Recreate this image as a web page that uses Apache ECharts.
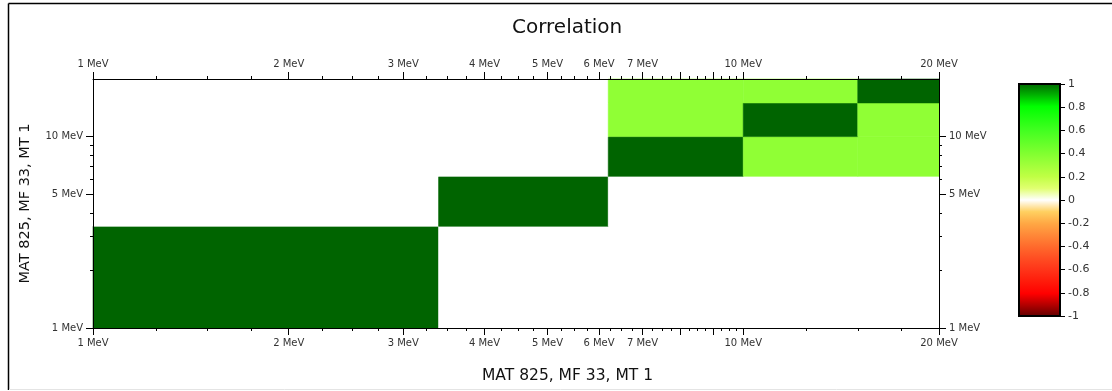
<!DOCTYPE html>
<html><head><meta charset="utf-8">
<script src="https://cdn.jsdelivr.net/npm/echarts@6/dist/echarts.min.js"></script>
<style>html,body{margin:0;padding:0;background:#fff}#c{width:1112px;height:391px}</style>
</head><body><div id="c"></div>
<script>
// ---- data ----
const groupBounds = [1, 3.4, 6.2, 10, 15, 20];           // MeV, group edges (both axes)
const corrMatrix = [                                      // row = y group, col = x group
  [1, 0, 0, 0, 0],
  [0, 1, 0, 0, 0],
  [0, 0, 1, 0.35, 0.35],
  [0, 0, 0.35, 1, 0.35],
  [0, 0, 0.35, 0.35, 1]
];
const xMajorTicks = [1, 2, 3, 4, 5, 6, 7, 8, 9, 10, 20];
const xLabelTicks = [1, 2, 3, 4, 5, 6, 7, 10, 20];
const xMinorTicks = [1.25, 1.5, 1.75, 2.25, 2.5, 2.75, 3.25, 3.5, 3.75, 4.25, 4.5, 4.75,
  5.25, 5.5, 5.75, 6.25, 6.5, 6.75, 7.25, 7.5, 7.75, 8.25, 8.5, 8.75, 9.25, 9.5, 9.75,
  12.5, 15, 17.5];
const yLabelTicks = [1, 5, 10];
const yMinorTicks = [2, 3, 4, 6, 7, 8, 9];
const colorScale = ['#5C0000', '#B00000', '#FF0000', '#FF1A0A', '#FF3318', '#FF4D22', '#FF6A2C',
  '#FF8838', '#FFA844', '#FFD060', '#FFFFFF', '#E0FF70', '#C0FF44', '#A0FF3A', '#80FF30',
  '#60FF28', '#40FF20', '#20FF10', '#00FF00', '#00B000', '#006400'];
const energyMin = 1, energyMax = 20;
const titleText = 'Correlation';
const axisTitle = 'MAT 825, MF 33, MT 1';

// ---- build ----
const L = v => Math.log10(v);
const LMIN = L(energyMin), LMAX = L(energyMax);
const fmt = v => Math.round(Math.pow(10, v)) + ' MeV';
const FONT = 'DejaVu Sans';

const cells = [];
for (let r = 0; r < corrMatrix.length; r++) {
  for (let c = 0; c < corrMatrix[r].length; c++) {
    cells.push([L(groupBounds[c]), L(groupBounds[c + 1]), L(groupBounds[r]), L(groupBounds[r + 1]), corrMatrix[r][c]]);
  }
}

const lbl = {fontSize: 10, color: '#333', fontFamily: FONT};
function xAx(pos, major) {
  return {
    gridIndex: 0, type: 'value', position: pos, min: LMIN, max: LMAX, z: 10,
    splitLine: {show: false},
    axisLine: {show: major, onZero: false, lineStyle: {color: '#000', width: 1}},
    axisTick: {show: true, length: major ? 7 : 3, customValues: (major ? xMajorTicks : xMinorTicks).map(L), lineStyle: {color: '#000'}},
    axisLabel: major ? Object.assign({show: true, customValues: xLabelTicks.map(L), formatter: fmt, margin: 10, showMinLabel: true, showMaxLabel: true}, lbl) : {show: false}
  };
}
function yAx(pos, major) {
  return {
    gridIndex: 0, type: 'value', position: pos, min: LMIN, max: LMAX, z: 10,
    splitLine: {show: false},
    axisLine: {show: major, onZero: false, lineStyle: {color: '#000', width: 1}},
    axisTick: {show: true, length: major ? 7 : 3, customValues: (major ? yLabelTicks : yMinorTicks).map(L), lineStyle: {color: '#000'}},
    axisLabel: major ? Object.assign({show: true, customValues: yLabelTicks.map(L), formatter: fmt, margin: 10, showMinLabel: true, showMaxLabel: true}, lbl) : {show: false},
    name: (major && pos === 'left') ? axisTitle : '',
    nameLocation: 'middle', nameGap: 60,
    nameTextStyle: {fontSize: 14.5, color: '#111', fontFamily: FONT}
  };
}

const colorStops = colorScale.map((c, i) => ({offset: 1 - i / (colorScale.length - 1), color: c}));

const option = {
  animation: false,
  backgroundColor: '#fff',
  title: [
    {text: titleText, left: 507, top: 13, textStyle: {fontSize: 20, fontWeight: 'normal', color: '#111', fontFamily: FONT}},
    {text: axisTitle, left: 477, top: 363, textStyle: {fontSize: 15.5, fontWeight: 'normal', color: '#111', fontFamily: FONT}}
  ],
  grid: [
    {left: 93, top: 79, width: 846, height: 249, containLabel: false, outerBoundsMode: 'none'},
    {left: 1019, top: 84, width: 41, height: 232, containLabel: false, outerBoundsMode: 'none'}
  ],
  xAxis: [
    xAx('bottom', true), xAx('bottom', false), xAx('top', true), xAx('top', false),
    {gridIndex: 1, type: 'value', min: 0, max: 1, show: false}
  ],
  yAxis: [
    yAx('left', true), yAx('left', false), yAx('right', true), yAx('right', false),
    {gridIndex: 1, type: 'value', position: 'right', min: -1, max: 1, interval: 0.2, z: 10,
     splitLine: {show: false},
     axisLine: {show: false, onZero: false},
     axisTick: {show: true, length: 5, lineStyle: {color: '#000'}},
     axisLabel: {margin: 8, fontSize: 11, color: '#333', fontFamily: FONT,
       formatter: v => { const n = Math.round(v * 10) / 10; return n === 0 ? '0' : String(n); }}}
  ],
  visualMap: {show: false, type: 'continuous', min: -1, max: 1, dimension: 4, seriesIndex: 0, inRange: {color: colorScale}},
  graphic: [
    {type: 'line', shape: {x1: 8.5, y1: 3.5, x2: 1112, y2: 3.5}, style: {stroke: '#000', lineWidth: 1.5}, silent: true},
    {type: 'line', shape: {x1: 8.5, y1: 3.5, x2: 8.5, y2: 390}, style: {stroke: '#000', lineWidth: 1.5}, silent: true},
    {type: 'line', shape: {x1: 9, y1: 389.5, x2: 1112, y2: 389.5}, style: {stroke: '#e4e4e4', lineWidth: 1}, silent: true}
  ],
  series: [
    {
      type: 'custom', xAxisIndex: 0, yAxisIndex: 0, coordinateSystem: 'cartesian2d',
      data: cells, encode: {x: [0, 1], y: [2, 3]}, z: 1,
      renderItem: (params, api) => {
        const p0 = api.coord([api.value(0), api.value(3)]);
        const p1 = api.coord([api.value(1), api.value(2)]);
        const col = api.visual('color');
        return {type: 'rect', shape: {x: p0[0], y: p0[1], width: p1[0] - p0[0], height: p1[1] - p0[1]},
          style: {fill: col, stroke: col, lineWidth: 0.6}};
      }
    },
    {
      type: 'custom', xAxisIndex: 4, yAxisIndex: 4, coordinateSystem: 'cartesian2d',
      data: [[0, -1, 1, 1]], encode: {x: [0, 2], y: [1, 3]},
      renderItem: (params, api) => {
        const p0 = api.coord([api.value(0), api.value(3)]);
        const p1 = api.coord([api.value(2), api.value(1)]);
        return {type: 'rect', shape: {x: p0[0], y: p0[1], width: p1[0] - p0[0], height: p1[1] - p0[1]},
          style: {fill: new echarts.graphic.LinearGradient(0, 0, 0, 1, colorStops), stroke: '#000', lineWidth: 2}};
      }
    }
  ]
};
const chart = echarts.init(document.getElementById('c'), null, {renderer: 'canvas'});
chart.setOption(option);
</script></body></html>
